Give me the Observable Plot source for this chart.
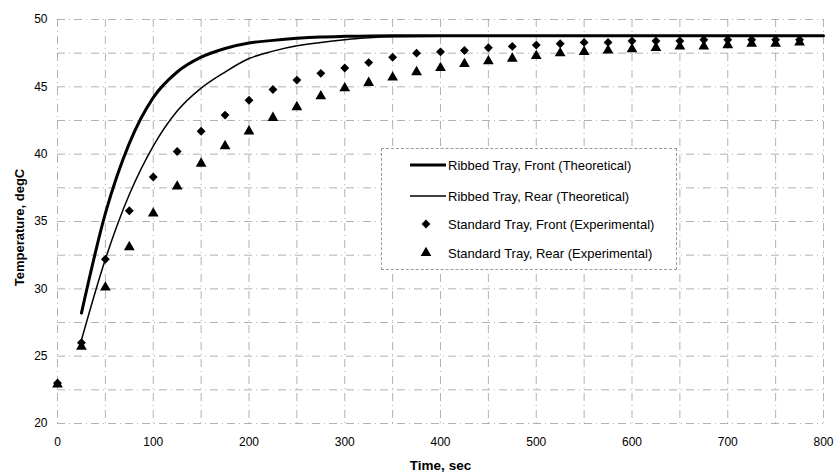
<!DOCTYPE html>
<html>
<head>
<meta charset="utf-8">
<script src="https://cdn.jsdelivr.net/npm/d3@7"></script>
<script src="https://cdn.jsdelivr.net/npm/@observablehq/plot@0.6"></script>
<style>
  html, body { margin: 0; padding: 0; background: #fff; }
  #wrap { position: relative; width: 835px; height: 475px; font-family: "Liberation Sans", Arial, sans-serif; }
  #legend { position: absolute; left: 381px; top: 148px; width: 296px; height: 122px; background: #fff;
            border: 1px dashed #999; box-sizing: border-box; }
  .row { position: absolute; left: 0; height: 16px; display: flex; align-items: center; font-size: 13px; color: #000; white-space: nowrap; }
  .row svg { display: block; }
</style>
</head>
<body>
<div id="wrap"></div>
<script>
// Experimental sample times (s)
const expTime = [0,25,50,75,100,125,150,175,200,225,250,275,300,325,350,375,400,425,450,475,500,525,550,575,600,625,650,675,700,725,750,775];
// Standard Tray, Front (Experimental), degC
const stdFront = [23.0,26.0,32.2,35.8,38.3,40.2,41.7,42.9,44.0,44.8,45.5,46.0,46.4,46.8,47.2,47.5,47.6,47.7,47.9,48.0,48.1,48.2,48.3,48.3,48.4,48.4,48.4,48.5,48.5,48.5,48.5,48.5];
// Standard Tray, Rear (Experimental), degC
const stdRear = [22.9,25.7,30.1,33.1,35.6,37.6,39.3,40.6,41.7,42.7,43.5,44.3,44.9,45.3,45.7,46.1,46.4,46.7,46.9,47.1,47.3,47.5,47.6,47.7,47.8,47.9,48.0,48.0,48.1,48.2,48.2,48.3];
// Ribbed Tray, Front (Theoretical)
const frontTime = [25,50,75,100,125,150,175,200,225,250,275,300,350,400,500,600,700,800];
const ribFront = [28.2,35.6,40.8,44.2,46.1,47.2,47.85,48.25,48.45,48.6,48.7,48.75,48.8,48.8,48.8,48.8,48.8,48.8];
// Ribbed Tray, Rear (Theoretical)
const rearTime = [25,50,75,100,125,150,175,200,225,250,275,300,325,350,400,500,800];
const ribRear = [26.2,32.2,37.0,40.6,43.2,44.9,46.1,47.1,47.65,48.05,48.3,48.5,48.65,48.72,48.75,48.75,48.75];

const xTicks = [0,100,200,300,400,500,600,700,800];
const yTicks = [20,25,30,35,40,45,50];
const xGrid = d3.range(0, 801, 50);
const yGrid = d3.range(20, 50.01, 2.5);

const seriesNames = ["Ribbed Tray, Front (Theoretical)", "Ribbed Tray, Rear (Theoretical)",
                     "Standard Tray, Front (Experimental)", "Standard Tray, Rear (Experimental)"];
const xTitle = "Time, sec";
const yTitle = "Temperature, degC";

const front = frontTime.map((t, i) => ({t, v: ribFront[i]}));
const rear = rearTime.map((t, i) => ({t, v: ribRear[i]}));
const expF = expTime.map((t, i) => ({t, v: stdFront[i]}));
const expR = expTime.map((t, i) => ({t, v: stdRear[i]}));

const chart = Plot.plot({
  width: 835,
  height: 475,
  marginLeft: 57,
  marginRight: 12,
  marginTop: 19,
  marginBottom: 52,
  x: {domain: [0, 800]},
  y: {domain: [20, 50]},
  style: {fontFamily: "'Liberation Sans', Arial, sans-serif", fontSize: "12px", color: "#000", background: "#fff"},
  marks: [
    Plot.gridX(xGrid, {stroke: "#888", strokeOpacity: 0.65, strokeDasharray: "8 4 1 4"}),
    Plot.gridY(yGrid, {stroke: "#888", strokeOpacity: 0.65, strokeDasharray: "8 4 1 4"}),
    Plot.axisX(xTicks, {tickSize: 0, tickPadding: 14, label: null, fontSize: 12}),
    Plot.axisY(yTicks, {tickSize: 0, tickPadding: 10, label: null, fontSize: 12}),
    Plot.line(front, {x: "t", y: "v", stroke: "#000", strokeWidth: 3, curve: "monotone-x"}),
    Plot.line(rear, {x: "t", y: "v", stroke: "#000", strokeWidth: 1.5, curve: "monotone-x"}),
    Plot.dot(expF, {x: "t", y: "v", symbol: "diamond2", r: 4, fill: "#000", stroke: "none"}),
    Plot.dot(expR, {x: "t", y: "v", symbol: "triangle", r: 4, fill: "#000", stroke: "none"}),
    Plot.text([xTitle], {frameAnchor: "bottom", dy: 46, fontWeight: "bold", fontSize: 13.5, letterSpacing: "0.8px"}),
    Plot.text([yTitle], {frameAnchor: "left", textAnchor: "middle", rotate: -90, dx: -38, dy: 6, fontWeight: "bold", fontSize: 13, letterSpacing: "0.3px"})
  ]
});

const wrap = document.getElementById("wrap");
wrap.appendChild(chart);

// Legend
const legend = document.createElement("div");
legend.id = "legend";
const rowsY = [16, 47, 75, 104];
const kinds = ["thick", "thin", "diamond", "triangle"];
seriesNames.forEach((name, i) => {
  const row = document.createElement("div");
  row.className = "row";
  row.style.top = (rowsY[i] - 8) + "px";
  row.style.left = "28px";
  const svg = d3.create("svg").attr("width", 38).attr("height", 16);
  if (kinds[i] === "thick") svg.append("line").attr("x1", 0).attr("x2", 36).attr("y1", 8).attr("y2", 8).attr("stroke", "#000").attr("stroke-width", 3);
  if (kinds[i] === "thin") svg.append("line").attr("x1", 0).attr("x2", 36).attr("y1", 8).attr("y2", 8).attr("stroke", "#000").attr("stroke-width", 1.3);
  if (kinds[i] === "diamond") svg.append("path").attr("transform", "translate(16,8)").attr("d", d3.symbol(d3.symbolDiamond2, 4*4*Math.PI)()).attr("fill", "#000");
  if (kinds[i] === "triangle") svg.append("path").attr("transform", "translate(16,8)").attr("d", d3.symbol(d3.symbolTriangle, 4*4*Math.PI)()).attr("fill", "#000");
  row.appendChild(svg.node());
  const span = document.createElement("span");
  span.textContent = name;
  row.appendChild(span);
  legend.appendChild(row);
});
wrap.appendChild(legend);
</script>
</body>
</html>
